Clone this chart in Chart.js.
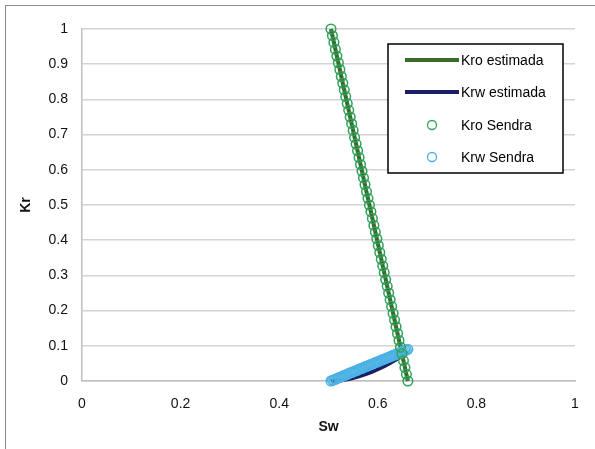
<!DOCTYPE html>
<html>
<head>
<meta charset="utf-8">
<script src="https://cdn.jsdelivr.net/npm/chart.js@4.4.1/dist/chart.umd.min.js"></script>
<style>
html,body{margin:0;padding:0;background:#fff;overflow:hidden;width:595px;height:449px;}
#frame{position:absolute;left:5px;top:5px;width:640px;height:480px;border:1px solid #8a8a8a;}
#chart{position:absolute;left:0;top:0;}
</style>
</head>
<body>
<div id="frame"></div>
<canvas id="chart" width="595" height="449"></canvas>
<script>
// Sendra points (circles)
const swSendra=[0.505,0.508,0.511,0.514,0.517,0.520,0.523,0.526,0.529,0.532,0.535,0.538,0.541,0.544,0.547,0.550,0.553,0.556,0.559,0.562,0.565,0.568,0.571,0.574,0.577,0.580,0.583,0.586,0.589,0.592,0.595,0.598,0.601,0.604,0.607,0.610,0.613,0.616,0.619,0.622,0.625,0.628,0.631,0.634,0.637,0.640,0.643,0.646,0.649,0.652,0.655,0.658,0.661];
const kroSendra=[1,0.981,0.962,0.942,0.923,0.904,0.885,0.865,0.846,0.827,0.808,0.788,0.769,0.750,0.731,0.712,0.692,0.673,0.654,0.635,0.615,0.596,0.577,0.558,0.538,0.519,0.500,0.481,0.462,0.442,0.423,0.404,0.385,0.365,0.346,0.327,0.308,0.288,0.269,0.250,0.231,0.212,0.192,0.173,0.154,0.135,0.115,0.096,0.077,0.058,0.038,0.019,0.000];
const krwSendra=[0,0.002,0.003,0.005,0.007,0.009,0.010,0.012,0.014,0.016,0.017,0.019,0.021,0.023,0.024,0.026,0.028,0.029,0.031,0.033,0.035,0.036,0.038,0.040,0.042,0.043,0.045,0.047,0.048,0.050,0.052,0.054,0.055,0.057,0.059,0.061,0.062,0.064,0.066,0.067,0.069,0.071,0.073,0.074,0.076,0.078,0.080,0.081,0.083,0.085,0.087,0.088,0.090];
// estimated curves (lines)
const swEst=[0.505,0.517,0.529,0.541,0.553,0.565,0.577,0.589,0.601,0.613,0.625,0.637,0.649,0.661];
const kroEst=[1,0.923,0.846,0.769,0.692,0.615,0.538,0.462,0.385,0.308,0.231,0.154,0.077,0];
const krwEst=[0,0.0008,0.0028,0.0059,0.0098,0.0147,0.0204,0.0269,0.0342,0.0422,0.0511,0.0607,0.0710,0.082];

const xTicks=[0,0.2,0.4,0.6,0.8,1];
const yTicks=[0,0.1,0.2,0.3,0.4,0.5,0.6,0.7,0.8,0.9,1];

function pts(xs,ys){return xs.map((x,i)=>({x:x,y:ys[i]}));}

const FONT="'Liberation Sans', Arial, sans-serif";

const legendBox={
  id:"legendBox",
  afterDraw(chart){
    const ctx=chart.ctx;
    const ds=chart.data.datasets;
    const bx=388,by=44,bw=175,bh=129;
    ctx.save();
    ctx.fillStyle="#fff";
    ctx.fillRect(bx,by,bw,bh);
    ctx.strokeStyle="#000";
    ctx.lineWidth=1.5;
    ctx.strokeRect(bx,by,bw,bh);
    const rows=[60,92,125,157];
    ctx.font="14px "+FONT;
    ctx.textBaseline="middle";
    ds.forEach((d,i)=>{
      const y=rows[i];
      if(d.showLine){
        ctx.strokeStyle=d.borderColor;
        ctx.lineWidth=4;
        ctx.beginPath();ctx.moveTo(405,y);ctx.lineTo(459,y);ctx.stroke();
      }else{
        ctx.strokeStyle=d.borderColor;
        ctx.lineWidth=1.3;
        ctx.beginPath();ctx.arc(432,y,4.5,0,Math.PI*2);ctx.stroke();
      }
      ctx.fillStyle="#000";
      ctx.fillText(d.label,461,y+1);
    });
    ctx.restore();
  }
};

new Chart(document.getElementById("chart"),{
  type:"scatter",
  data:{
    datasets:[
      {label:"Kro estimada",data:pts(swEst,kroEst),showLine:true,borderColor:"#3a6b2a",borderWidth:4,pointRadius:0,order:2,clip:false},
      {label:"Krw estimada",data:pts(swEst,krwEst),showLine:true,borderColor:"#1d1f66",borderWidth:4,pointRadius:0,order:2,clip:false},
      {label:"Kro Sendra",data:pts(swSendra,kroSendra),showLine:false,borderColor:"#2fa15a",backgroundColor:"rgba(0,0,0,0)",borderWidth:1.5,pointRadius:4.8,order:1,clip:false},
      {label:"Krw Sendra",data:pts(swSendra,krwSendra),showLine:false,borderColor:"#4cb2e4",backgroundColor:"rgba(0,0,0,0)",borderWidth:1.5,pointRadius:4.8,order:1,clip:false}
    ]
  },
  options:{
    responsive:false,
    animation:false,
    layout:{padding:{left:0,top:29,right:20,bottom:0}},
    plugins:{legend:{display:false},tooltip:{enabled:false}},
    scales:{
      x:{
        type:"linear",min:0,max:1,
        afterBuildTicks:s=>{s.ticks=xTicks.map(v=>({value:v}));},
        afterFit:s=>{s.height=68;},
        grid:{display:false,drawTicks:false},
        border:{display:true,color:"#bfbfbf",width:1.5},
        ticks:{padding:15,color:"#111",font:{family:FONT,size:14},callback:v=>String(v)},
        title:{display:true,text:"Sw",color:"#111",font:{family:FONT,size:14,weight:"bold"},padding:{top:0,bottom:13}}
      },
      y:{
        type:"linear",min:0,max:1,
        afterBuildTicks:s=>{s.ticks=yTicks.map(v=>({value:v}));},
        afterFit:s=>{s.width=82;},
        grid:{color:"#d4d4d4",lineWidth:1.5,drawTicks:false},
        border:{display:true,color:"#bfbfbf",width:1.5},
        ticks:{padding:14,color:"#111",font:{family:FONT,size:14},callback:v=>String(v)},
        title:{display:true,text:"Kr",color:"#111",font:{family:FONT,size:14,weight:"bold"},padding:{top:18,bottom:0}}
      }
    }
  },
  plugins:[legendBox]
});
</script>
</body>
</html>
